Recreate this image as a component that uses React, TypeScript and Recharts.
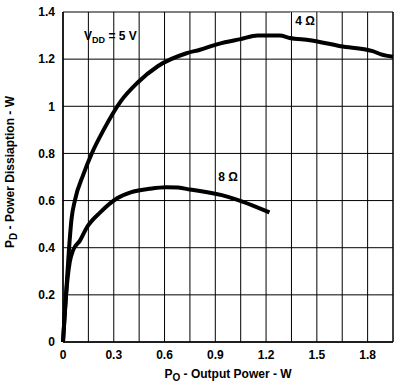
import {
  LineChart,
  Line,
  CartesianGrid,
  XAxis,
  YAxis,
  ReferenceDot,
  Label,
} from "recharts";

// output power (W) / power dissipation (W), VDD = 5 V
const po4 = [0, 0.018, 0.035, 0.05, 0.07, 0.12, 0.17, 0.24, 0.34, 0.44, 0.56, 0.73, 0.81, 0.92, 1.05, 1.15, 1.28, 1.34, 1.46, 1.64, 1.83, 1.88, 1.95];
const pd4 = [0, 0.2, 0.39, 0.52, 0.6, 0.71, 0.8, 0.9, 1.02, 1.1, 1.17, 1.225, 1.24, 1.265, 1.285, 1.3, 1.3, 1.29, 1.28, 1.255, 1.234, 1.22, 1.21];

const po8 = [0, 0.018, 0.04, 0.06, 0.1, 0.14, 0.22, 0.32, 0.4, 0.51, 0.61, 0.68, 0.75, 0.97, 1.06, 1.22];
const pd8 = [0, 0.2, 0.34, 0.39, 0.43, 0.485, 0.55, 0.61, 0.635, 0.65, 0.657, 0.655, 0.647, 0.617, 0.596, 0.55];

const xLabels = [0, 0.3, 0.6, 0.9, 1.2, 1.5, 1.8];
const xGrid = [0, 0.15, 0.3, 0.45, 0.6, 0.75, 0.9, 1.05, 1.2, 1.35, 1.5, 1.65, 1.8, 1.95];
const yTicks = [0, 0.2, 0.4, 0.6, 0.8, 1, 1.2, 1.4];
const xMax = 1.95;
const yMax = 1.4;

const curve4 = po4.map((x, i) => ({ x, y: pd4[i] }));
const curve8 = po8.map((x, i) => ({ x, y: pd8[i] }));

const W = 396;
const H = 382;
const top = 12;
const xAxisH = 40;
const plotH = H - top - xAxisH;

const font = "'Liberation Sans', Arial, sans-serif";
const tickStyle = { fill: "#000", fontSize: 12, fontWeight: 700, fontFamily: font };

// x tick: grid line up through the plot, label only on the 0.3 steps
function XTick(p: any) {
  const v = p.payload.value;
  return (
    <g>
      <line x1={p.x} x2={p.x} y1={p.y} y2={p.y - plotH} stroke="#000" strokeWidth={v === xMax ? 1.5 : 1} />
      {xLabels.includes(v) ? (
        <text x={p.x} y={p.y + 8} dy="0.71em" textAnchor="middle" {...tickStyle}>
          {v}
        </text>
      ) : null}
    </g>
  );
}

function note(w: number, body: any) {
  return (p: any) => (
    <g>
      <rect x={p.cx - w / 2} y={p.cy - 9} width={w} height={18} fill="#fff" />
      <text x={p.cx} y={p.cy + 4} textAnchor="middle" fontSize={12} fontWeight={700} fontFamily={font} fill="#000">
        {body}
      </text>
    </g>
  );
}

export default function App() {
  return (
    <div style={{ position: "absolute", left: 0, top: 0, background: "#fff" }}>
      <LineChart data={curve4} width={W} height={H} margin={{ top, right: 3, bottom: 0, left: 0 }}>
        <CartesianGrid stroke="#000" vertical={false} />

        <XAxis
          type="number"
          dataKey="x"
          domain={[0, xMax]}
          ticks={xGrid}
          interval={0}
          tickSize={0}
          tickMargin={0}
          tickLine={false}
          axisLine={{ stroke: "#000", strokeWidth: 1.5 }}
          tick={<XTick />}
          height={xAxisH}
        >
          <Label
            content={(p: any) => {
              const { x, y, width } = p.viewBox;
              return (
                <text x={x + width / 2} y={y + 36} textAnchor="middle" fontSize={12} fontWeight={700} fontFamily={font} fill="#000">
                  P<tspan dy={3} fontSize={10}>O</tspan>
                  <tspan dy={-3}> - Output Power - W</tspan>
                </text>
              );
            }}
          />
        </XAxis>
        <YAxis
          type="number"
          domain={[0, yMax]}
          ticks={yTicks}
          tickLine={false}
          axisLine={{ stroke: "#000", strokeWidth: 1.5 }}
          tick={tickStyle}
          width={63}
        >
          <Label
            content={(p: any) => {
              const { y, height } = p.viewBox;
              const cx = 14;
              const cy = y + height / 2 - 5;
              return (
                <text x={cx} y={cy} transform={`rotate(-90 ${cx} ${cy})`} textAnchor="middle" fontSize={12} fontWeight={700} fontFamily={font} fill="#000">
                  P<tspan dy={3} fontSize={10}>D</tspan>
                  <tspan dy={-3}>  - Power Dissiaption - W</tspan>
                </text>
              );
            }}
          />
        </YAxis>

        <Line dataKey="y" type="monotone" stroke="#000" strokeWidth={4} dot={false} isAnimationActive={false} />
        <Line data={curve8} dataKey="y" type="monotone" stroke="#000" strokeWidth={4} dot={false} isAnimationActive={false} />

        <ReferenceDot x={1.43} y={1.36} r={0} shape={note(30, "4 Ω")} />
        <ReferenceDot x={0.975} y={0.7} r={0} shape={note(30, "8 Ω")} />
        <ReferenceDot
          x={0.28}
          y={1.3}
          r={0}
          shape={note(
            66,
            <>
              V<tspan dy={3} fontSize={9}>DD</tspan>
              <tspan dy={-3}> = 5 V</tspan>
            </>
          )}
        />
      </LineChart>
    </div>
  );
}
